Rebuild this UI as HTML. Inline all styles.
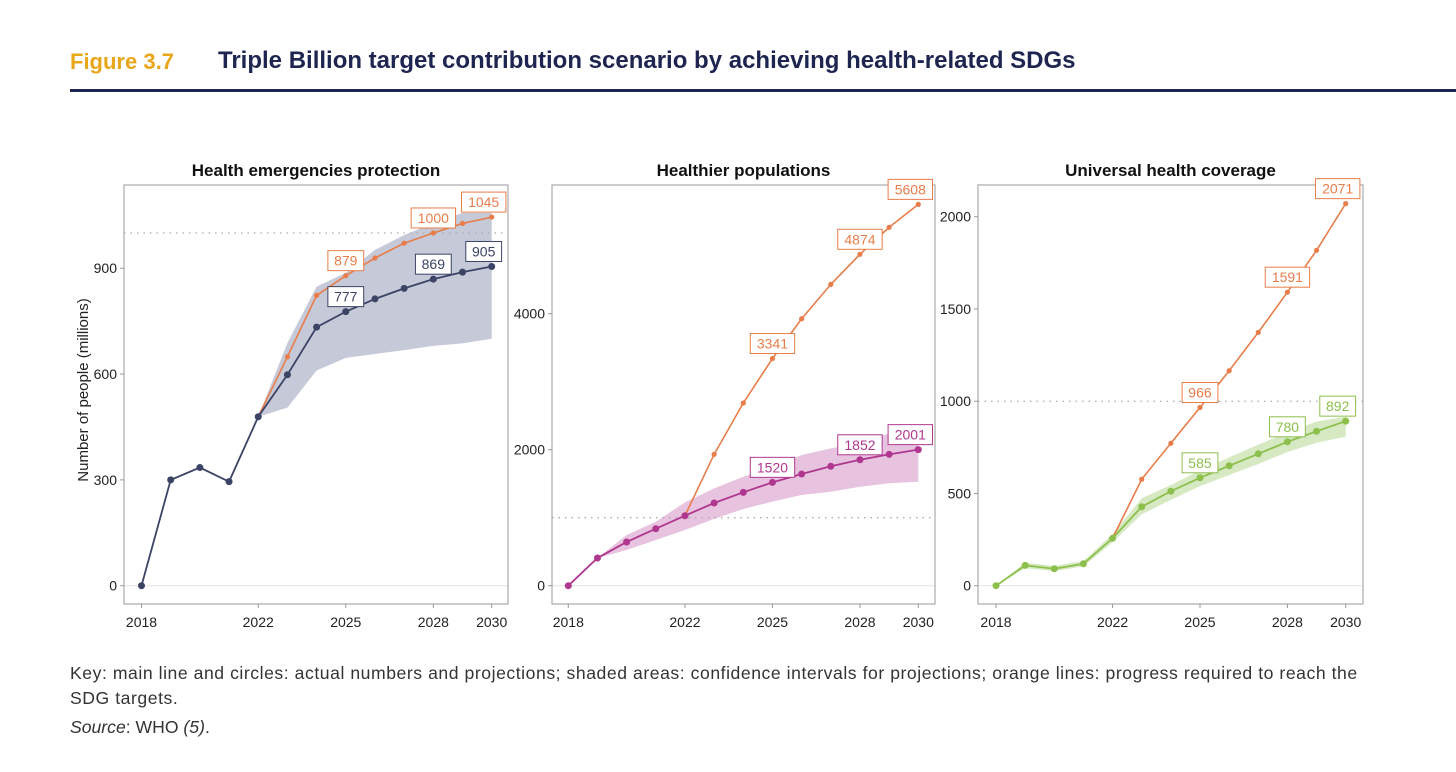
<!DOCTYPE html>
<html><head><meta charset="utf-8">
<style>
body{margin:0;width:1456px;height:772px;background:#fff;font-family:"Liberation Sans",sans-serif;overflow:hidden;position:relative}
.fig{position:absolute;left:70px;top:49px;font-size:22px;font-weight:bold;color:#e8a618}
.ttl{position:absolute;left:218px;top:47px;font-size:24px;font-weight:bold;color:#1d2550}
.rule{position:absolute;left:70px;top:89px;width:1386px;height:3px;background:#1d2550}
.key{position:absolute;left:70px;top:661px;font-size:17.6px;color:#333;line-height:25px;width:1320px;letter-spacing:0.55px}
.src{position:absolute;left:70px;top:717px;font-size:17.6px;color:#333}
svg{position:absolute;left:0;top:0}
</style></head><body>
<div class="fig">Figure 3.7</div>
<div class="ttl">Triple Billion target contribution scenario by achieving health-related SDGs</div>
<div class="rule"></div>
<div class="key">Key: main line and circles: actual numbers and projections; shaded areas: confidence intervals for projections; orange lines: progress required to reach the SDG targets.</div>
<div class="src"><i>Source</i>: WHO <i>(5)</i>.</div>
<svg id="chart" width="1456" height="772"></svg>
<script>
const years=[2018,2019,2020,2021,2022,2023,2024,2025,2026,2027,2028,2029,2030];
const xTicks=[2018,2022,2025,2028,2030];
// Panel 1: Health emergencies protection
const p1Main=[0,300,335,295,479,598,733,777,813,843,869,889,905];
const p1Target=[null,null,null,null,479,649,823,879,929,971,1000,1027,1045];
const p1Upper=[null,null,null,null,479,688,848,887,952,994,1028,1057,1057];
const p1Lower=[null,null,null,null,479,505,610,646,657,668,680,687,700];
const p1Ticks=[0,300,600,900];
// Panel 2: Healthier populations
const p2Main=[0,407,643,838,1029,1216,1373,1520,1643,1756,1852,1932,2001];
const p2Target=[null,null,null,null,1029,1932,2687,3341,3926,4431,4874,5271,5608];
const p2Upper=[null,407,746,941,1226,1432,1603,1750,1922,2020,2094,2241,2241];
const p2Lower=[null,407,525,672,819,982,1128,1236,1334,1382,1456,1506,1529];
const p2Ticks=[0,2000,4000];
// Panel 3: Universal health coverage
const p3Main=[0,110,92,119,257,428,512,585,650,715,780,837,892];
const p3Target=[null,null,null,null,257,577,772,966,1165,1373,1591,1818,2071];
const p3Upper=[0,125,107,134,280,474,545,625,695,765,830,890,916];
const p3Lower=[0,95,78,105,235,387,465,540,600,660,725,775,808];
const p3Ticks=[0,500,1000,1500,2000];
const labelYears=[2025,2028,2030];

const NS="http://www.w3.org/2000/svg";
const svg=document.getElementById('chart');
function mk(tag,attrs,parent){const e=document.createElementNS(NS,tag);for(const k in attrs)e.setAttribute(k,attrs[k]);(parent||svg).appendChild(e);return e;}

const panels=[
 {key:'emergencies',title:'Health emergencies protection',left:124,right:508,x0:141.5,x1:491.7,ymax:1136,main:p1Main,target:p1Target,up:p1Upper,lo:p1Lower,ticks:p1Ticks,col:'#3c4466',band:'#c6c9d7',tc:'#e87d4a'},
 {key:'healthier',title:'Healthier populations',left:552,right:935,x0:568.3,x1:918.3,ymax:5893,main:p2Main,target:p2Target,up:p2Upper,lo:p2Lower,ticks:p2Ticks,col:'#b0378f',band:'#e7c3df',tc:'#e87d4a'},
 {key:'uhc',title:'Universal health coverage',left:978,right:1363,x0:996,x1:1345.7,ymax:2172,main:p3Main,target:p3Target,up:p3Upper,lo:p3Lower,ticks:p3Ticks,col:'#8cbf4c',band:'#d6e9c2',tc:'#e87d4a'}
];
const TOP=185,BOT=604,Y0=585.7;

panels.forEach(p=>{
 const g=mk('g',{});
 
 
 const X=yr=>p.x0+(yr-2018)*(p.x1-p.x0)/12;
 const Y=v=>Y0-v*(Y0-TOP)/p.ymax;
 const t=mk('text',{x:(p.left+p.right)/2,y:176,'text-anchor':'middle','font-size':17,'font-weight':'bold',fill:'#111'},g);
 t.textContent=p.title;
 
 
 mk('line',{x1:p.left,x2:p.right,y1:Y(0),y2:Y(0),stroke:'#e3e3e3','stroke-width':1},g);
 let pts=[];years.forEach((yr,i)=>{if(p.up[i]!=null)pts.push(X(yr)+','+Y(p.up[i]));});
 for(let i=years.length-1;i>=0;i--){if(p.lo[i]!=null)pts.push(X(years[i])+','+Y(p.lo[i]));}
 const band=mk('polygon',{points:pts.join(' '),fill:p.band},g);
 
 
 const dl=mk('line',{x1:p.left,x2:p.right,y1:Y(1000),y2:Y(1000),stroke:'#aaa','stroke-width':1.3,'stroke-dasharray':'1.5,5'},g);
 
 
 mk('rect',{x:p.left,y:TOP,width:p.right-p.left,height:BOT-TOP,fill:'none',stroke:'#aaa','stroke-width':1.2},g);
 p.ticks.forEach(v=>{
  mk('line',{x1:p.left-4,x2:p.left,y1:Y(v),y2:Y(v),stroke:'#999'},g);
  const tl=mk('text',{x:p.left-7,y:Y(v)+5,'text-anchor':'end','font-size':14,fill:'#222'},g);
  tl.textContent=v;
  
  
 });
 xTicks.forEach(yr=>{
  mk('line',{x1:X(yr),x2:X(yr),y1:BOT,y2:BOT+4,stroke:'#999'},g);
  const tl=mk('text',{x:X(yr),y:627,'text-anchor':'middle','font-size':14,fill:'#222'},g);
  tl.textContent=yr;
  
  
 });
 function series(vals,col,r,w,name){
  const pp=[];years.forEach((yr,i)=>{if(vals[i]!=null)pp.push(X(yr)+','+Y(vals[i]));});
  const l=mk('polyline',{points:pp.join(' '),fill:'none',stroke:col,'stroke-width':w},g);
  
  
  years.forEach((yr,i)=>{if(vals[i]==null)return;
   const c=mk('circle',{cx:X(yr),cy:Y(vals[i]),r:r,fill:col},g);
   
   
  });
 }
 series(p.target,p.tc,2.6,1.6,'target');
 series(p.main,p.col,3.5,1.8,'main');
 function label(vals,col){
  labelYears.forEach(yr=>{const i=years.indexOf(yr);const v=vals[i];
   let cx=X(yr);if(yr===2030)cx-=8;const cy=Y(v)-15;
   const txt=String(v);const w=txt.length*8.6+10;
   const r=mk('rect',{x:cx-w/2,y:cy-10,width:w,height:20,fill:'#fff',stroke:col,'stroke-width':1},g);
   
   
   const tt=mk('text',{x:cx,y:cy+5,'text-anchor':'middle','font-size':14,fill:col},g);
   tt.textContent=txt;
   
   
  });
 }
 label(p.target,p.tc);
 label(p.main,p.col);
});
const yt=mk('text',{x:0,y:0,transform:'translate(88,390) rotate(-90)','text-anchor':'middle','font-size':15,fill:'#222'});
yt.textContent='Number of people (millions)';


</script>
</body></html>
